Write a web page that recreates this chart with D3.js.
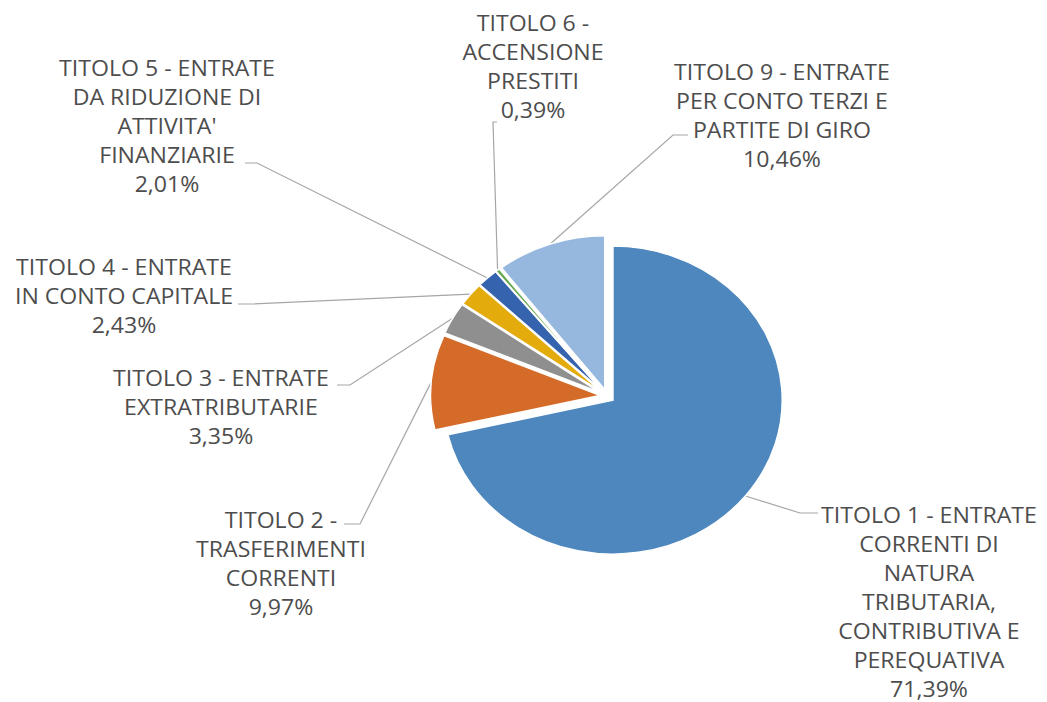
<!DOCTYPE html>
<html>
<head>
<meta charset="utf-8">
<script src="https://cdn.jsdelivr.net/npm/d3@7"></script>
<style>
  html, body { margin: 0; padding: 0; background: #ffffff; }
  svg { display: block; }
  text { font-family: "Open Sans", "Noto Sans", sans-serif; fill: #4d4d4d; }
</style>
</head>
<body>
<svg id="chart"></svg>
<script>
// data
var categories = ["TITOLO 1", "TITOLO 2", "TITOLO 3", "TITOLO 4", "TITOLO 5", "TITOLO 6", "TITOLO 9"];
var values = [71.39, 9.97, 3.35, 2.43, 2.01, 0.39, 10.46];
var labelLines = [
  ["TITOLO 1 - ENTRATE", "CORRENTI DI", "NATURA", "TRIBUTARIA,", "CONTRIBUTIVA E", "PEREQUATIVA"],
  ["TITOLO 2 -", "TRASFERIMENTI", "CORRENTI"],
  ["TITOLO 3 - ENTRATE", "EXTRATRIBUTARIE"],
  ["TITOLO 4 - ENTRATE", "IN CONTO CAPITALE"],
  ["TITOLO 5 - ENTRATE", "DA RIDUZIONE DI", "ATTIVITA'", "FINANZIARIE"],
  ["TITOLO 6 -", "ACCENSIONE", "PRESTITI"],
  ["TITOLO 9 - ENTRATE", "PER CONTO TERZI E", "PARTITE DI GIRO"]
];
var colors = ["#4d87be", "#d56b29", "#8f8f8f", "#e3ab0b", "#3663ae", "#6aa84f", "#96b8df"];

// label layout, in screen pixels: text centre x, first line y, leader elbow, leader end
var labelPos = [
  {cx: 929, y: 515, elbow: [800, 513], end: [818, 513]},
  {cx: 281, y: 520, elbow: [360, 524], end: [344, 524]},
  {cx: 221, y: 378, elbow: [350, 385], end: [337, 385]},
  {cx: 124, y: 267, elbow: [252, 304], end: [238, 304]},
  {cx: 167, y: 68,  elbow: [257, 163], end: [245, 163]},
  {cx: 533, y: 23,  elbow: [493, 122], end: [497, 122]},
  {cx: 782, y: 72,  elbow: [673, 135], end: [688, 135]}
];

var W = 1047, H = 702;
var SX = 1.1;              // the chart is stretched horizontally
var cx = 552, cy = 396;    // pie centre (view units)
var R = 154, explode = 6.6;
var lineH = 29;

function px(x) { return x / SX; }
var fmt = d3.format(".2f");
function pct(v) { return fmt(v).replace(".", ",") + "%"; }

var svg = d3.select("#chart")
  .attr("width", W)
  .attr("height", H)
  .attr("viewBox", "0 0 " + (W / SX) + " " + H)
  .attr("preserveAspectRatio", "none");

var pie = d3.pie().sort(null).value(function(d) { return d; });
var arc = d3.arc().innerRadius(0).outerRadius(R);
var arcs = pie(values);

arcs.forEach(function(a) {
  a.mid = (a.startAngle + a.endAngle) / 2;
  a.ox = cx + explode * Math.sin(a.mid);
  a.oy = cy - explode * Math.cos(a.mid);
});

// leader lines
var leaders = svg.append("g").attr("id", "leaders");
leaders.selectAll("path")
  .data(arcs)
  .enter()
  .append("path")
  .attr("d", function(d, i) {
    var p = labelPos[i];
    var sx = d.ox + R * Math.sin(d.mid), sy = d.oy - R * Math.cos(d.mid);
    return "M" + sx + "," + sy +
      "L" + px(p.elbow[0]) + "," + p.elbow[1] +
      "L" + px(p.end[0]) + "," + p.end[1];
  })
  .style("fill", "none")
  .style("stroke", "#a6a6a6")
  .style("stroke-width", 1.2)
  .attr("vector-effect", "non-scaling-stroke");

// slices
var slices = svg.append("g").attr("id", "slices");
slices.selectAll("path")
  .data(arcs)
  .enter()
  .append("path")
  .attr("transform", function(d) { return "translate(" + d.ox + "," + d.oy + ")"; })
  .attr("d", arc)
  .style("fill", function(d, i) { return colors[i]; })
  .style("stroke", "#ffffff")
  .style("stroke-width", 1.5);

// labels
var labels = svg.append("g").attr("id", "labels");
labels.selectAll("text")
  .data(arcs)
  .enter()
  .append("text")
  .attr("text-anchor", "middle")
  .style("font-size", "21px")
  .each(function(d, i) {
    var p = labelPos[i];
    var lines = labelLines[i].concat([pct(values[i])]);
    var t = d3.select(this);
    lines.forEach(function(l, k) {
      t.append("tspan")
        .attr("x", px(p.cx))
        .attr("y", p.y + k * lineH)
        .attr("dy", "0.36em")
        .text(l);
    });
  });
</script>
</body>
</html>
